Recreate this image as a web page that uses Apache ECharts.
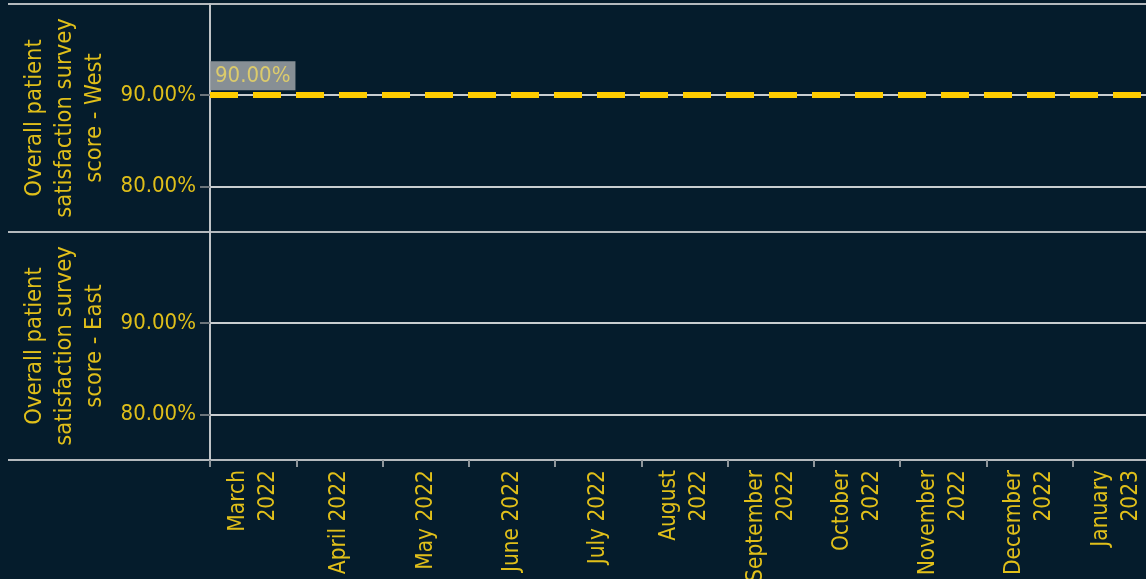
<!DOCTYPE html>
<html>
<head>
<meta charset="utf-8">
<script src="https://cdn.jsdelivr.net/npm/echarts@6/dist/echarts.min.js"></script>
<style>
  html, body { margin: 0; padding: 0; background: #051c2c; }
  #chart { width: 1146px; height: 579px; }
</style>
</head>
<body>
<div id="chart"></div>
<script>
// ---- data ----
const months = ['March 2022', 'April 2022', 'May 2022', 'June 2022', 'July 2022', 'August 2022',
  'September 2022', 'October 2022', 'November 2022', 'December 2022', 'January 2023'];
const monthLabels = ['March\n2022', 'April 2022', 'May 2022', 'June 2022', 'July 2022', 'August\n2022',
  'September\n2022', 'October\n2022', 'November\n2022', 'December\n2022', 'January\n2023'];
const westScores = [null, null, null, null, null, null, null, null, null, null, null];
const eastScores = [null, null, null, null, null, null, null, null, null, null, null];
const westTarget = 90;
const yTickValues = [80, 90];
const yMin = 75;
const yMax = 100;
const panelTitles = ['Overall patient\nsatisfaction survey\nscore - West', 'Overall patient\nsatisfaction survey\nscore - East'];

// ---- style ----
const FONT = '"DejaVu Sans Condensed", "DejaVu Sans", sans-serif';
const TXT = '#e0bf1a';
const LINE = '#bfc3c7';
const pct = v => Number(v).toFixed(2) + '%';

const chart = echarts.init(document.getElementById('chart'), null, { renderer: 'canvas' });

function panelY(gi, title) {
  return {
    type: 'value', gridIndex: gi, min: yMin, max: yMax,
    name: title, nameLocation: 'middle', nameRotate: 90, nameGap: 96,
    nameTextStyle: { color: TXT, fontFamily: FONT, fontSize: 23.5, lineHeight: 30, align: 'center' },
    axisLine: { show: true, lineStyle: { color: LINE, width: 2 } },
    axisTick: { show: true, length: 10, customValues: yTickValues, lineStyle: { color: '#6c757b', width: 2 } },
    axisLabel: { show: true, customValues: yTickValues, margin: 14, color: TXT, fontFamily: FONT, fontSize: 22, formatter: pct },
    splitLine: { show: true, lineStyle: { color: '#c9cdd0', width: 2 } }
  };
}

const option = {
  backgroundColor: '#051c2c',
  animation: false,
  grid: [
    { left: 8, right: 0, top: 4, height: 456, outerBoundsMode: 'none', containLabel: false },
    { left: 210, width: 949, top: 4, height: 228, outerBoundsMode: 'none', containLabel: false },
    { left: 210, width: 949, top: 232, height: 228, outerBoundsMode: 'none', containLabel: false }
  ],
  xAxis: [
    { type: 'value', gridIndex: 0, show: false, min: 0, max: 1 },
    { type: 'category', gridIndex: 1, data: months, boundaryGap: true, show: false },
    {
      type: 'category', gridIndex: 2, data: months, boundaryGap: true,
      axisLine: { show: false },
      axisTick: { show: true, length: 7, interval: 0, lineStyle: { color: '#8f969b', width: 2 } },
      axisLabel: {
        interval: 0, rotate: 90, margin: 10, color: TXT, fontFamily: FONT, fontSize: 22.5, lineHeight: 30,
        formatter: (v, i) => monthLabels[i]
      },
      splitLine: { show: false }
    }
  ],
  yAxis: [
    {
      type: 'value', gridIndex: 0, min: 0, max: 2, interval: 1,
      axisLine: { show: false }, axisTick: { show: false }, axisLabel: { show: false },
      splitLine: { show: true, lineStyle: { color: '#b4b9bd', width: 2 } }
    },
    panelY(1, panelTitles[0]),
    panelY(2, panelTitles[1])
  ],
  series: [
    {
      name: 'West', type: 'line', xAxisIndex: 1, yAxisIndex: 1, data: westScores,
      symbol: 'none', silent: true,
      markLine: {
        silent: true, symbol: ['none', 'none'],
        data: [{ yAxis: westTarget }],
        lineStyle: { color: '#ffcc00', width: 6, type: [28, 15], cap: 'butt' },
        emphasis: { disabled: true },
        label: {
          show: true, position: 'insideStartTop', distance: [0, 5],
          formatter: p => pct(p.value),
          color: '#dccb6c', backgroundColor: 'rgba(150,156,161,0.9)',
          padding: [4, 5, 3, 5], fontFamily: FONT, fontSize: 22, lineHeight: 22
        }
      }
    },
    {
      name: 'East', type: 'line', xAxisIndex: 2, yAxisIndex: 2, data: eastScores,
      symbol: 'none', silent: true
    }
  ]
};
chart.setOption(option);
</script>
</body>
</html>
